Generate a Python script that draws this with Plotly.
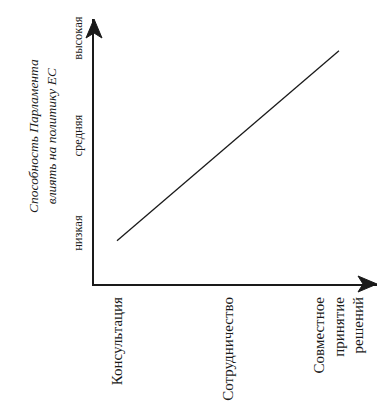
import plotly.graph_objects as go

# Data
categories = ["Консультация", "Сотрудничество", "Совместное принятие решений"]
category_labels = ["Консультация", "Сотрудничество", "Совместное<br>принятие<br>решений"]
level_values = [1, 2, 3]
level_labels = ["низкая", "средняя", "высокая"]
line_x = [categories[0], categories[2]]
line_y = [0.94, 2.89]
y_title = "Способность Парламента<br>влиять на политику ЕС"

SERIF = "Liberation Serif"

fig = go.Figure()
fig.add_trace(go.Scatter(
    x=line_x, y=line_y, mode="lines",
    line=dict(color="#1a1a1a", width=1.3),
    showlegend=False, hoverinfo="skip",
))

# the page body adds an 8px offset, so the figure is 8px smaller
fig.update_layout(
    width=377, height=399,
    margin=dict(l=86, r=8, t=11, b=123),
    paper_bgcolor="white", plot_bgcolor="white",
    font=dict(family=SERIF, color="#1a1a1a", size=14),
    xaxis=dict(
        type="category", automargin=False,
        categoryorder="array", categoryarray=categories,
        range=[-0.207, -0.207 + 283 / 111],
        tickvals=categories, ticktext=category_labels,
        tickangle=-90, ticks="", showgrid=False, zeroline=False,
        showline=True, linecolor="#1a1a1a", linewidth=2,
        tickfont=dict(family=SERIF, size=15),
        ticklabelstandoff=5,
    ),
    yaxis=dict(
        automargin=False,
        range=[0.497, 0.497 + 265 / 97.5],
        tickvals=level_values, ticktext=level_labels,
        tickangle=-90, ticks="", showgrid=False, zeroline=False,
        showline=True, linecolor="#1a1a1a", linewidth=2,
        tickfont=dict(family=SERIF, size=12.5),
        ticklabelstandoff=5,
    ),
    annotations=[dict(
        text=y_title, textangle=-90, showarrow=False,
        xref="paper", yref="paper",
        x=(42 - 94) / 283, y=(284 - 136) / 265,
        xanchor="center", yanchor="middle",
        font=dict(family=SERIF, size=13.5, style="italic"),
    )],
)

# arrow heads
fig.add_shape(type="path", xref="paper", yref="paper",
              xsizemode="pixel", ysizemode="pixel", xanchor=0, yanchor=1,
              path="M0,0 L-8,-19 L0,-14 L8,-19 Z",
              fillcolor="#1a1a1a", line=dict(color="#1a1a1a", width=1))
fig.add_shape(type="path", xref="paper", yref="paper",
              xsizemode="pixel", ysizemode="pixel", xanchor=1, yanchor=0,
              path="M0,0 L-19,8 L-14,0 L-19,-8 Z",
              fillcolor="#1a1a1a", line=dict(color="#1a1a1a", width=1))

fig.write_html("out.html")
